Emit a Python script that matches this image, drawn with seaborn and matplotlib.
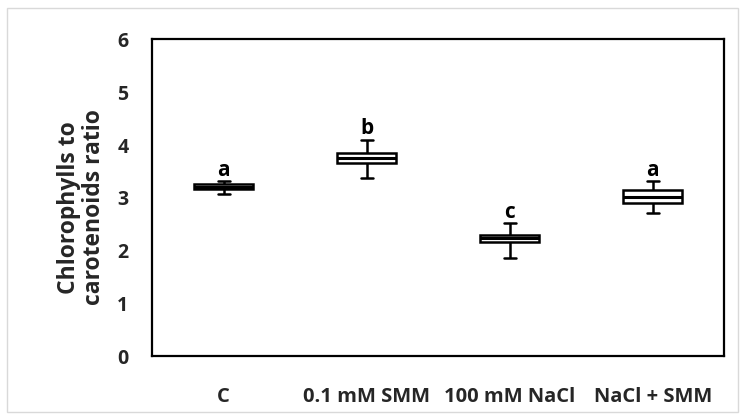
import matplotlib
matplotlib.use("Agg")
import matplotlib.pyplot as plt
import seaborn as sns
import pandas as pd
from matplotlib.patches import Rectangle

categories = ["C", "0.1 mM SMM", "100 mM NaCl", "NaCl + SMM"]
whisker_low = [3.08, 3.38, 1.86, 2.72]
q1 = [3.16, 3.66, 2.16, 2.90]
median = [3.21, 3.75, 2.24, 3.02]
q3 = [3.27, 3.84, 2.30, 3.15]
whisker_high = [3.32, 4.10, 2.52, 3.32]
letters = ["a", "b", "c", "a"]
y_ticks = [0, 1, 2, 3, 4, 5, 6]

rows = []
for i, cat in enumerate(categories):
    for v in (whisker_low[i], q1[i], median[i], q3[i], whisker_high[i]):
        rows.append({"group": cat, "value": v})
df = pd.DataFrame(rows)

sns.set_theme(style="white")
plt.rcParams["font.family"] = ["Open Sans", "DejaVu Sans"]
plt.rcParams["font.weight"] = "bold"

fig = plt.figure(figsize=(7.42, 4.2), dpi=100)
ax = fig.add_axes([0.205, 0.152, 0.771, 0.754])

sns.boxplot(data=df, x="group", y="value", order=categories, ax=ax,
            whis=(0, 100), width=0.41, color="white", linecolor="black",
            linewidth=1.8, showfliers=False, capwidths=0.085,
            medianprops={"color": "black", "linewidth": 2.2})

for i, cat in enumerate(categories):
    ax.text(i, whisker_high[i] + 0.005, letters[i], ha="center", va="bottom",
            fontsize=15, fontweight="bold", color="black")

ax.set_ylim(0, 6)
ax.set_xlim(-0.5, len(categories) - 0.5)
ax.set_yticks(y_ticks)
ax.set_yticklabels([str(t) for t in y_ticks], fontsize=14, fontweight="bold")
ax.set_xticks(range(len(categories)))
ax.set_xticklabels(categories, fontsize=14.5, fontweight="bold")
ax.tick_params(axis="y", length=0, pad=17)
ax.tick_params(axis="x", length=0, pad=22)
ax.set_xlabel("")
ax.set_ylabel("Chlorophylls to\ncarotenoids ratio", fontsize=16.5, fontweight="bold",
              linespacing=1.05)
ax.yaxis.set_label_coords(-0.08, 0.47)
for s in ax.spines.values():
    s.set_color("black")
    s.set_linewidth(1.6)
    s.set_visible(True)

fig.patches.append(Rectangle((0.01, 0.019), 0.985, 0.962, transform=fig.transFigure,
                             fill=False, edgecolor="#d9d9d9", linewidth=1.0))

fig.savefig("out.png", dpi=100)
